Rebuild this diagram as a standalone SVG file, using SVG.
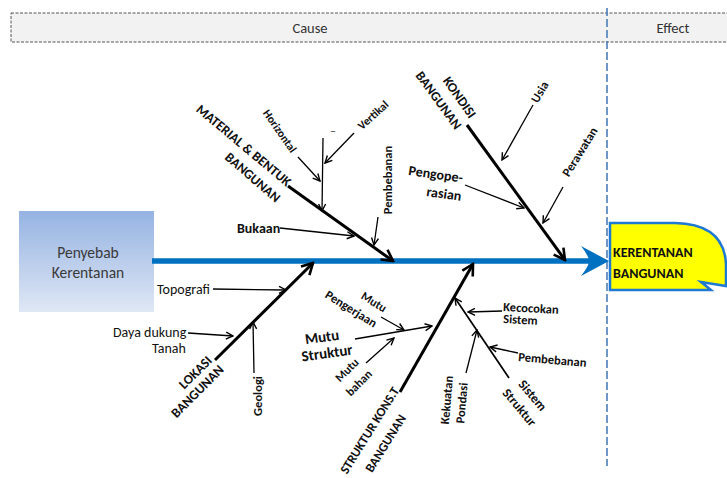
<svg xmlns="http://www.w3.org/2000/svg" width="727" height="478" viewBox="0 0 727 478">
<defs>
<linearGradient id="boxg" x1="0" y1="0" x2="0" y2="1">
<stop offset="0" stop-color="#95b3e2"/>
<stop offset="1" stop-color="#dfe7f5"/>
</linearGradient>
<marker id="big" markerUnits="userSpaceOnUse" markerWidth="16" markerHeight="16" viewBox="0 0 16 16" refX="14" refY="8" orient="auto">
<path d="M3,2 L14,8 L3,14" fill="none" stroke="#000" stroke-width="2.6"/>
</marker>
<marker id="sm" markerUnits="userSpaceOnUse" markerWidth="10" markerHeight="10" viewBox="0 0 10 10" refX="9" refY="5" orient="auto">
<path d="M2,1.5 L9,5 L2,8.5" fill="none" stroke="#000" stroke-width="1.4"/>
</marker>
</defs>
<style>
text{font-family:Carlito,Lato,"Liberation Sans",sans-serif;fill:#111}
.b{font-weight:bold}
.bone{stroke:#000;stroke-width:3;fill:none;marker-end:url(#big)}
.sub{stroke:#000;stroke-width:1.3;fill:none;marker-end:url(#sm)}
.c{text-anchor:middle}
</style>

<g id="header">
<rect x="11" y="13" width="730" height="29" fill="#f2f2f2" stroke="#555" stroke-width="1" stroke-dasharray="3,1.5"/>
<text x="310" y="33" class="c" style="font-size:14.5px;fill:#333">Cause</text>
<text x="673" y="33" class="c" style="font-size:14.5px;fill:#333">Effect</text>
</g>
<line id="divider" x1="607" y1="8" x2="607" y2="466" stroke="#4a7ebb" stroke-width="1.6" stroke-dasharray="8,3"/>

<g id="source">
<rect x="19" y="211" width="135" height="101" fill="url(#boxg)"/>
<text x="88" y="258" class="c" style="font-size:15.5px;fill:#3a3a3a">Penyebab</text>
<text x="88" y="278" class="c" style="font-size:15.5px;fill:#3a3a3a">Kerentanan</text>
</g>

<g id="spine">
<line x1="152" y1="261" x2="592" y2="261" stroke="#0070c0" stroke-width="5.5"/>
<path d="M609,261 L581,246 Q589,256 589,261 Q589,266 581,276 Z" fill="#0070c0"/>
</g>

<g id="effect">
<path d="M610,223 L675,223 Q724,224 726,264 L726,286 L701,282 L711,290 L610,290 Z" fill="#ffff00" stroke="#1f78d1" stroke-width="2.5"/>
<text x="613" y="257" class="b" style="font-size:14px">KERENTANAN</text>
<text x="613" y="278" class="b" style="font-size:14px">BANGUNAN</text>
</g>

<g id="connectors">
<line class="bone" x1="288" y1="186" x2="393" y2="261"/>
<line class="bone" x1="467" y1="125" x2="565" y2="260"/>
<line class="bone" x1="215" y1="360" x2="313" y2="263"/>
<line class="bone" x1="400" y1="392" x2="473" y2="264"/>
<line class="sub" x1="298" y1="157" x2="320" y2="181"/>
<line class="sub" x1="354" y1="133" x2="325" y2="163"/>
<line class="sub" x1="323" y1="138" x2="322" y2="211"/>
<line class="sub" x1="378" y1="217" x2="374" y2="245"/>
<line class="sub" x1="280" y1="228" x2="354" y2="236"/>
<line class="sub" x1="533" y1="105" x2="502" y2="160"/>
<line class="sub" x1="563" y1="187" x2="543" y2="223"/>
<line class="sub" x1="465" y1="185" x2="524" y2="208"/>
<line class="sub" x1="213" y1="289" x2="286" y2="290"/>
<line class="sub" x1="188" y1="333" x2="233" y2="336"/>
<line class="sub" x1="254" y1="373" x2="253" y2="322"/>
<line class="sub" x1="355" y1="339" x2="432" y2="326"/>
<line class="sub" x1="381" y1="317" x2="404" y2="330"/>
<line class="sub" x1="366" y1="363" x2="394" y2="338"/>
<line class="sub" x1="509" y1="378" x2="455" y2="298" style="stroke-width:1.7"/>
<line class="sub" x1="502" y1="311" x2="468" y2="312"/>
<line class="sub" x1="518" y1="353" x2="490" y2="347"/>
<line class="sub" x1="466" y1="373" x2="477" y2="330"/>
</g>

<g id="material">
<text class="b c" style="font-size:13.5px" transform="translate(244,145) rotate(40)" y="5">MATERIAL &amp; BENTUK</text>
<text class="b c" style="font-size:13.5px" transform="translate(253,177) rotate(41)" y="5">BANGUNAN</text>
<text class="b c" style="font-size:11.5px" transform="translate(280,131) rotate(55)" y="4">Horizontal</text>
<text class="b c" style="font-size:11.5px" transform="translate(373,115) rotate(-42)" y="4">Vertikal</text>
<text class="c" style="font-size:12px;fill:#444" x="333" y="135">–</text>
<text class="b c" style="font-size:12.5px" transform="translate(388,180) rotate(-90)" y="4">Pembebanan</text>
<text class="b" style="font-size:14px" x="237" y="233">Bukaan</text>
</g>

<g id="kondisi">
<text class="b c" style="font-size:13.5px" transform="translate(460,97) rotate(55)" y="5">KONDISI</text>
<text class="b c" style="font-size:13.5px" transform="translate(439,100) rotate(54)" y="5">BANGUNAN</text>
<text class="b c" style="font-size:12.5px" transform="translate(540,92) rotate(-60)" y="4">Usia</text>
<text class="b c" style="font-size:12.5px" transform="translate(580,152) rotate(-58)" y="4">Perawatan</text>
<text class="b" style="font-size:14px" transform="translate(408,175) rotate(8)">Pengope-</text>
<text class="b" style="font-size:14px" transform="translate(426,196) rotate(8)">rasian</text>
</g>

<g id="lokasi">
<text class="b c" style="font-size:13.5px" transform="translate(195,372) rotate(-45)" y="5">LOKASI</text>
<text class="b c" style="font-size:13.5px" transform="translate(197,391) rotate(-45)" y="5">BANGUNAN</text>
<text style="font-size:14px" x="157" y="294">Topografi</text>
<text style="font-size:14px" x="113" y="337">Daya dukung</text>
<text style="font-size:14px" x="152" y="353">Tanah</text>
<text class="b c" style="font-size:12.5px" transform="translate(258,396) rotate(-90)" y="4">Geologi</text>
</g>

<g id="struktur">
<text class="b c" style="font-size:13px" transform="translate(369,430) rotate(-58)" y="5">STRUKTUR KONS.T</text>
<text class="b c" style="font-size:13px" transform="translate(385,443) rotate(-58)" y="5">BANGUNAN</text>
<text class="b c" style="font-size:15px" transform="translate(322,337) rotate(-8)" y="5">Mutu</text>
<text class="b c" style="font-size:15px" transform="translate(327,353) rotate(-8)" y="5">Struktur</text>
<text class="b c" style="font-size:12px" transform="translate(374,302) rotate(32)" y="4">Mutu</text>
<text class="b c" style="font-size:12.5px" transform="translate(351,309) rotate(32)" y="4">Pengerjaan</text>
<text class="b c" style="font-size:12px" transform="translate(347,370) rotate(-45)" y="4">Mutu</text>
<text class="b c" style="font-size:12px" transform="translate(359,383) rotate(-45)" y="4">bahan</text>
<text class="b" style="font-size:12.5px" transform="translate(503,311) rotate(3)">Kecocokan</text>
<text class="b" style="font-size:12.5px" transform="translate(503,323) rotate(3)">Sistem</text>
<text class="b" style="font-size:12.5px" transform="translate(518,361) rotate(5)">Pembebanan</text>
<text class="b c" style="font-size:12.5px" transform="translate(447,400) rotate(-85)" y="4">Kekuatan</text>
<text class="b c" style="font-size:12.5px" transform="translate(462,403) rotate(-85)" y="4">Pondasi</text>
<text class="b c" style="font-size:13px" transform="translate(533,395) rotate(50)" y="5">Sistem</text>
<text class="b c" style="font-size:13px" transform="translate(520,407) rotate(50)" y="5">Struktur</text>
</g>
</svg>
